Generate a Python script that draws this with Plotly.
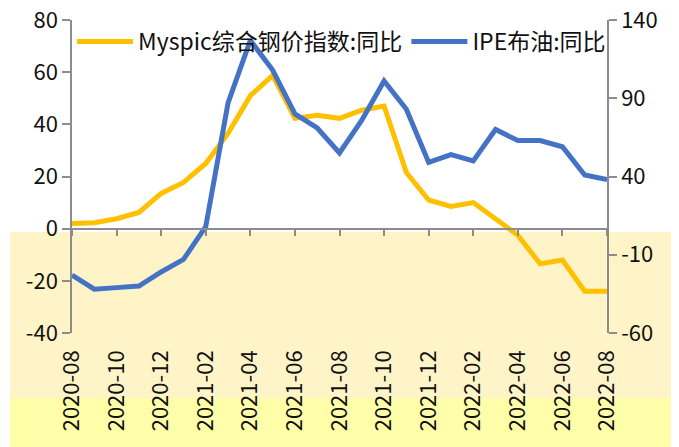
import plotly.graph_objects as go

months = ["2020-08", "2020-09", "2020-10", "2020-11", "2020-12", "2021-01", "2021-02",
          "2021-03", "2021-04", "2021-05", "2021-06", "2021-07", "2021-08", "2021-09",
          "2021-10", "2021-11", "2021-12", "2022-01", "2022-02", "2022-03", "2022-04",
          "2022-05", "2022-06", "2022-07", "2022-08"]
myspic = [2, 2.3, 3.8, 6.2, 13.5, 17.7, 25, 36.5, 51, 58.8, 42.3, 43.5, 42.3, 45.4, 47,
          21.5, 11, 8.5, 10, 4, -2.5, -13.5, -12, -24, -24]
ipe = [-23, -32, -31, -30, -21, -13, 8, 87, 127, 108, 80, 71, 55, 76, 101, 83, 49, 54,
       50, 70, 63, 63, 59, 41, 38]
tick_labels = months[::2]
left_ticks = [-40, -20, 0, 20, 40, 60, 80]
right_ticks = [-60, -10, 40, 90, 140]

FONT = "Noto Sans CJK SC"
AXC = "#8c8c8c"

fig = go.Figure()
fig.add_trace(go.Scatter(x=months, y=myspic, name="Myspic综合钢价指数:同比", mode="lines",
                         line=dict(color="#FFC000", width=5), yaxis="y", xaxis="x",
                         legend="legend"))
fig.add_trace(go.Scatter(x=months, y=ipe, name="IPE布油:同比", mode="lines",
                         line=dict(color="#4472C4", width=5), yaxis="y2", xaxis="x",
                         legend="legend2"))
# helper invisible trace to draw the zero-crossing category axis
fig.add_trace(go.Scatter(x=months, y=myspic, mode="lines", line=dict(width=0),
                         opacity=0, showlegend=False, hoverinfo="skip",
                         xaxis="x2", yaxis="y"))

legend_common = dict(orientation="h", xanchor="left", y=1.0, yanchor="top",
                     bgcolor="rgba(0,0,0,0)", font=dict(size=23), itemwidth=56)

fig.update_layout(
    width=671, height=447,
    margin=dict(l=64, r=72, t=12, b=122),
    paper_bgcolor="white", plot_bgcolor="rgba(0,0,0,0)",
    font=dict(family=FONT, size=21, color="#111111"),
    showlegend=True,
    legend=dict(x=0.0, **legend_common),
    legend2=dict(x=0.625, **legend_common),
    xaxis=dict(type="category", range=[0, 24], showline=False, ticks="",
               tickvals=tick_labels, ticktext=tick_labels, tickangle=-90,
               showgrid=False, zeroline=False, ticklabelstandoff=12,
               tickfont=dict(size=22), automargin=False, ticklabeloverflow="allow"),
    xaxis2=dict(type="category", range=[0, 24], overlaying="x", anchor="free",
                position=1/3, showline=True, linecolor=AXC, linewidth=1.5,
                ticks="outside", ticklen=7, tickcolor=AXC, tickwidth=1.5,
                tickvals=tick_labels, showticklabels=False, showgrid=False,
                zeroline=False, automargin=False),
    yaxis=dict(range=[-40, 80], tickvals=left_ticks,
               ticktext=[str(v) for v in left_ticks], showline=True, linecolor=AXC,
               linewidth=1.5, ticks="outside", ticklen=8, tickcolor=AXC, tickwidth=1.5,
               showgrid=False, zeroline=False, tickfont=dict(size=22), automargin=False,
               ticklabeloverflow="allow"),
    yaxis2=dict(range=[-60, 140], tickvals=right_ticks,
                ticktext=[str(v) for v in right_ticks], overlaying="y", side="right",
                showline=True, linecolor=AXC, linewidth=1.5, ticks="outside",
                ticklen=8, tickcolor=AXC, tickwidth=1.5, showgrid=False,
                zeroline=False, tickfont=dict(size=22), automargin=False,
                ticklabeloverflow="allow"),
    shapes=[
        dict(type="rect", xref="paper", yref="paper", layer="below",
             x0=-62/535, x1=601/535, y0=-130/313, y1=(333-232)/313,
             fillcolor="#FFF4C8", line=dict(width=0)),
        dict(type="rect", xref="paper", yref="paper", layer="below",
             x0=-62/535, x1=601/535, y0=-130/313, y1=(333-398)/313,
             fillcolor="#FFFFAA", line=dict(width=0)),
    ],
)

fig.write_html("out.html")
